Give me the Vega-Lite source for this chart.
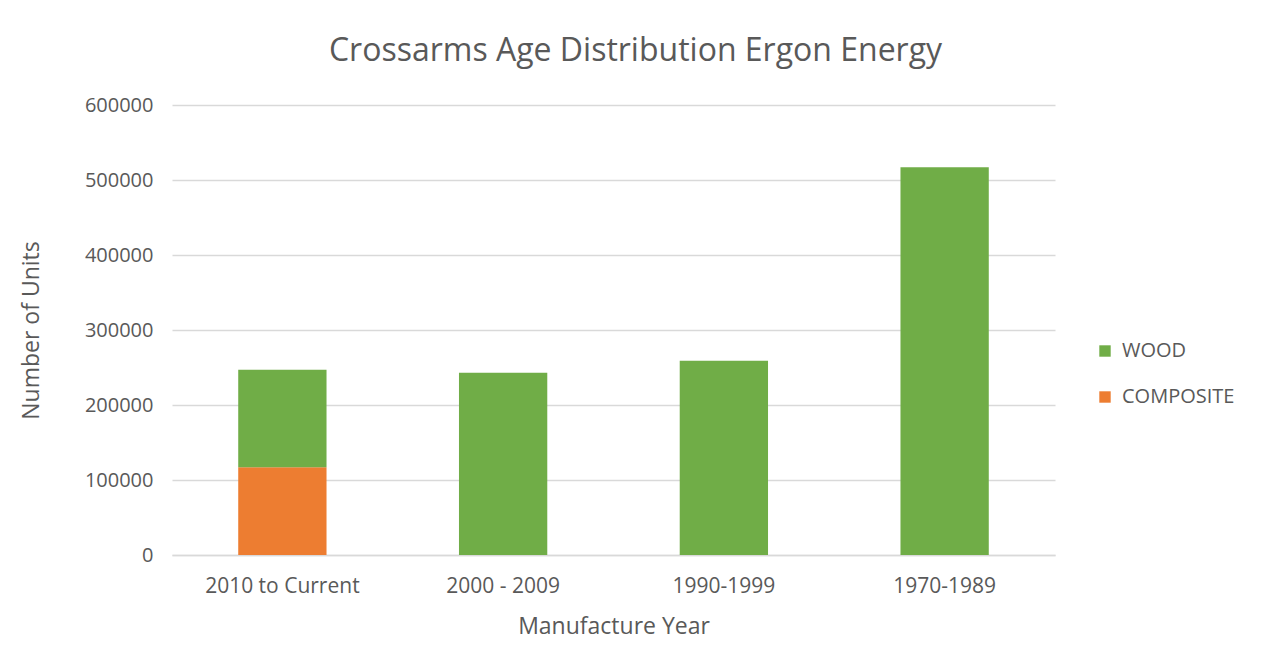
{
  "$schema": "https://vega.github.io/schema/vega-lite/v6.json",
  "autosize": "none",
  "padding": {"left": 172, "top": 105, "right": 207, "bottom": 116},
  "width": 883,
  "height": 450,
  "background": "white",
  "title": {
    "text": "Crossarms Age Distribution Ergon Energy",
    "font": "Open Sans",
    "fontSize": 32,
    "fontWeight": "normal",
    "color": "#595959",
    "anchor": "middle",
    "dx": 22,
    "offset": 27
  },
  "data": {
    "values": [
      {"year": "2010 to Current", "type": "COMPOSITE", "units": 117000},
      {"year": "2010 to Current", "type": "WOOD", "units": 130000},
      {"year": "2000 - 2009", "type": "WOOD", "units": 243000},
      {"year": "1990-1999", "type": "WOOD", "units": 259000},
      {"year": "1970-1989", "type": "WOOD", "units": 517000}
    ]
  },
  "mark": {"type": "bar"},
  "encoding": {
    "x": {
      "field": "year",
      "type": "nominal",
      "sort": ["2010 to Current", "2000 - 2009", "1990-1999", "1970-1989"],
      "scale": {"paddingInner": 0.6, "paddingOuter": 0.3},
      "axis": {
        "title": "Manufacture Year",
        "labelAngle": 0,
        "ticks": false,
        "domainColor": "#D9D9D9",
        "domainWidth": 1.5,
        "labelPadding": 20,
        "titlePadding": 19
      }
    },
    "y": {
      "field": "units",
      "type": "quantitative",
      "stack": "zero",
      "scale": {"domain": [0, 600000]},
      "axis": {
        "title": "Number of Units",
        "values": [0, 100000, 200000, 300000, 400000, 500000, 600000],
        "format": "d",
        "ticks": false,
        "domain": false,
        "labelPadding": 19,
        "titlePadding": 41,
        "gridColor": "#D9D9D9",
        "gridWidth": 1.5
      }
    },
    "color": {
      "field": "type",
      "type": "nominal",
      "scale": {"domain": ["WOOD", "COMPOSITE"], "range": ["#70AD47", "#ED7D31"]},
      "legend": {
        "title": null,
        "orient": "none",
        "legendX": 923,
        "legendY": 236,
        "symbolType": "square",
        "symbolSize": 130,
        "symbolStrokeWidth": 0,
        "rowPadding": 26,
        "labelOffset": 7
      }
    },
    "order": {"field": "type", "sort": "ascending"}
  },
  "config": {
    "view": {"stroke": null},
    "font": "Open Sans",
    "axis": {
      "labelFont": "Open Sans",
      "labelFontSize": 20,
      "labelColor": "#595959",
      "titleFont": "Open Sans",
      "titleFontSize": 23,
      "titleFontWeight": "normal",
      "titleColor": "#595959"
    },
    "axisX": {"labelFontSize": 21},
    "legend": {
      "labelFont": "Open Sans",
      "labelFontSize": 20,
      "labelColor": "#595959"
    }
  }
}
